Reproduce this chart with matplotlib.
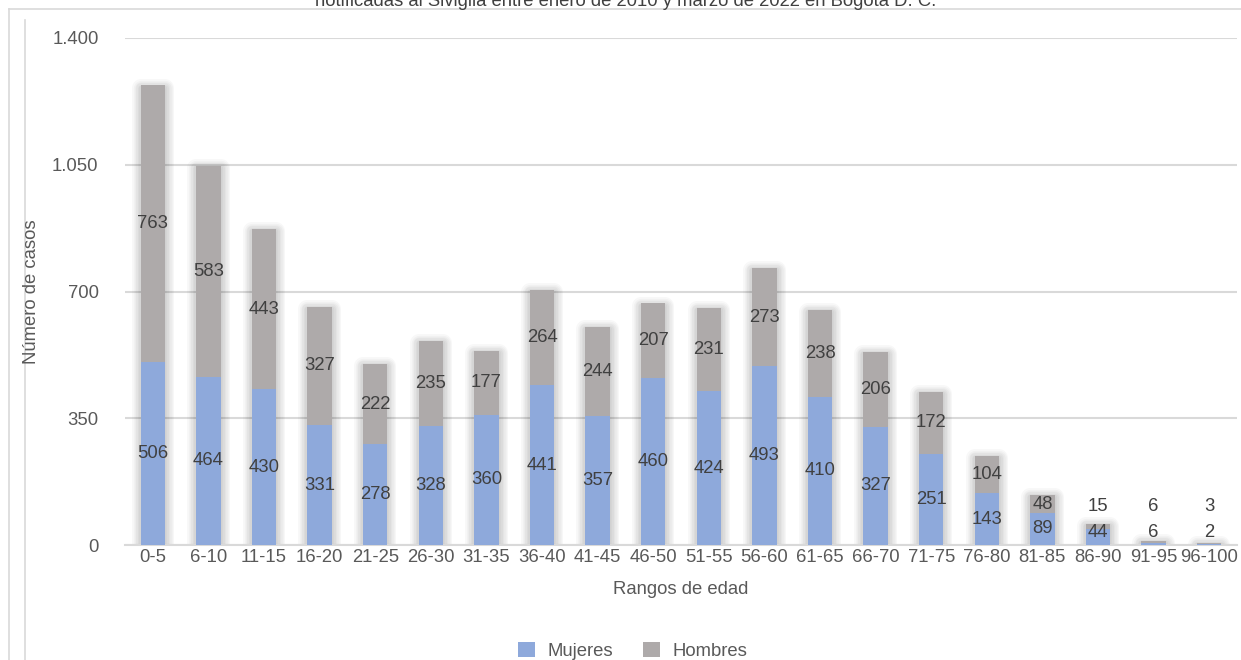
import matplotlib.pyplot as plt
import matplotlib.patheffects as pe
from matplotlib.lines import Line2D
from matplotlib.patches import Patch
import numpy as np

# Data
rangos = ["0-5", "6-10", "11-15", "16-20", "21-25", "26-30", "31-35", "36-40",
          "41-45", "46-50", "51-55", "56-60", "61-65", "66-70", "71-75", "76-80",
          "81-85", "86-90", "91-95", "96-100"]
mujeres = [506, 464, 430, 331, 278, 328, 360, 441, 357, 460, 424, 493, 410, 327,
           251, 143, 89, 44, 6, 2]
hombres = [763, 583, 443, 327, 222, 235, 177, 264, 244, 207, 231, 273, 238, 206,
           172, 104, 48, 15, 6, 3]
y_ticks = [0, 350, 700, 1050, 1400]
y_tick_labels = ["0", "350", "700", "1.050", "1.400"]

titulo = "notificadas al Sivigila entre enero de 2010 y marzo de 2022 en Bogotá D. C."

plt.rcParams['font.family'] = ['Liberation Sans', 'DejaVu Sans']

azul = "#8EA9DB"
gris = "#AEAAAA"
texto = "#404040"
texto_ejes = "#595959"
lineas = "#D9D9D9"
fs = 13.3

W, H = 1241, 660
fig = plt.figure(figsize=(W / 100, H / 100), dpi=100)
ax = fig.add_axes([125 / W, 1 - 545 / H, (1237 - 125) / W, (545 - 38) / H])

x = np.arange(len(rangos))
m = np.array(mujeres)
h = np.array(hombres)
ancho = 0.44

# soft shadow behind the whole stacked bar (stacked strokes, fading outwards)
sombra = [pe.Stroke(offset=(0, -1.5), linewidth=lw, foreground="black", alpha=0.028,
                    joinstyle="round")
          for lw in (13, 11, 9, 7, 5, 3)]
ax.bar(x, m + h, ancho, color=gris, linewidth=0, path_effects=sombra + [pe.Normal()], zorder=2)

ax.bar(x, m, ancho, color=azul, linewidth=0, label="Mujeres", zorder=3)
ax.bar(x, h, ancho, bottom=m, color=gris, linewidth=0, label="Hombres", zorder=3)

# data labels
for i in range(len(rangos)):
    ax.text(x[i], max(m[i] / 2, 35), str(m[i]), ha="center", va="center",
            fontsize=fs, color=texto, zorder=4)
    ax.text(x[i], max(m[i] + h[i] / 2, 105), str(h[i]), ha="center", va="center",
            fontsize=fs, color=texto, zorder=4)

ax.set_xlim(-0.5, len(rangos) - 0.5)
ax.set_ylim(0, 1400)
ax.set_yticks(y_ticks)
ax.set_yticklabels(y_tick_labels)
ax.set_xticks(x)
ax.set_xticklabels(rangos)
ax.tick_params(axis="y", length=0, pad=19, labelsize=fs, labelcolor=texto_ejes)
ax.tick_params(axis="x", length=0, pad=3, labelsize=fs, labelcolor=texto_ejes)

ax.grid(axis="y", color=lineas, linewidth=1.5)
ax.set_axisbelow(True)
for s in ["top", "right", "left"]:
    ax.spines[s].set_visible(False)
ax.spines["bottom"].set_color(lineas)
ax.spines["bottom"].set_linewidth(1.5)

# axis titles
fig.text(32 / W, 1 - 292 / H, "Número de casos", rotation=90, ha="center", va="center",
         fontsize=fs, color=texto_ejes)
fig.text(681 / W, 1 - 589 / H, "Rangos de edad", ha="center", va="center",
         fontsize=fs, color=texto_ejes)

# title (cut at the top in the original)
fig.text(626 / W, 1 - 6 / H, titulo, ha="center", va="baseline", fontsize=fs, color=texto)

# legend
handles = [Patch(facecolor=azul, edgecolor="none"), Patch(facecolor=gris, edgecolor="none")]
fig.legend(handles, ["Mujeres", "Hombres"], loc="center", bbox_to_anchor=(633 / W, 1 - 651 / H),
           ncol=2, frameon=False, fontsize=fs, handlelength=0.9, handleheight=0.9,
           handletextpad=0.7, columnspacing=1.6, labelcolor=texto_ejes)

# chart frame lines
fig.add_artist(Line2D([9 / W, 1], [1 - 9 / H, 1 - 9 / H], color=lineas, linewidth=1.2))
fig.add_artist(Line2D([9 / W, 9 / W], [0, 1 - 9 / H], color=lineas, linewidth=1.2))
fig.add_artist(Line2D([25 / W, 25 / W], [0, 1 - 20 / H], color=lineas, linewidth=1.2))

plt.savefig("out.png", dpi=100)
plt.close()
